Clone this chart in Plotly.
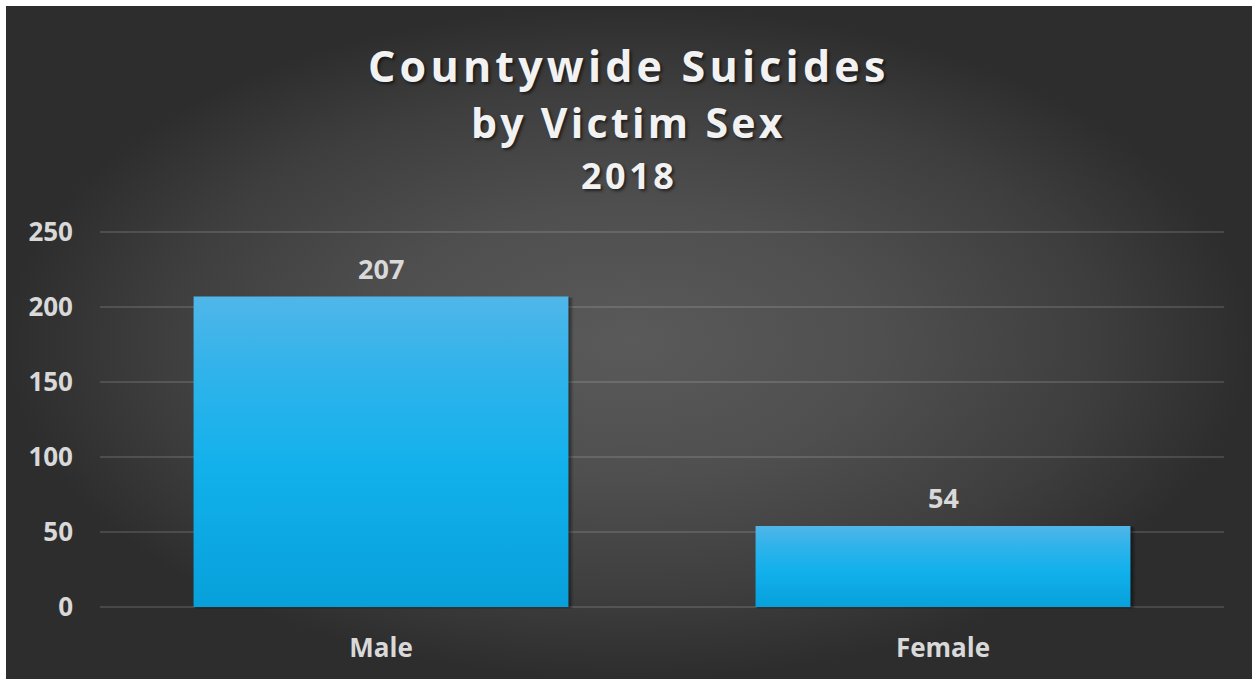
import plotly.graph_objects as go

# Data
categories = ["Male", "Female"]
suicides = [207, 54]
y_ticks = [0, 50, 100, 150, 200, 250]

title_lines = ["Countywide Suicides", "by Victim Sex", "2018"]

# Canvas geometry (pixels)
W, H = 1252, 679
PLOT_L, PLOT_R = 100, 1224
PLOT_T, PLOT_B = 232, 607
FRAME_L, FRAME_T = 6, 6

BAR_WIDTH = 0.667
LABEL_COLOR = "#d9d9d9"
FONT = "Open Sans"

# Small padding on the value axis so the 0 and 250 gridlines are drawn
Y_PAD = 0.8
px_per_y = (PLOT_B - PLOT_T) / y_ticks[-1]
dom_bottom_px = PLOT_B + Y_PAD * px_per_y
dom_top_px = PLOT_T - Y_PAD * px_per_y

fig = go.Figure()

# Chart background: radial gradient panel inside a thin white frame
fig.add_trace(go.Scatter(
    x=[0, 1, 1, 0, 0], y=[0, 0, 1, 1, 0],
    xaxis="x", yaxis="y",
    mode="lines", line=dict(width=0), fill="toself",
    fillgradient=dict(
        type="radial",
        colorscale=[[0.0, "#5a5a5a"], [0.4, "#4f4f4f"], [0.75, "#3e3e3e"], [1.0, "#2d2d2d"]],
    ),
    hoverinfo="skip", showlegend=False,
))

# Bar geometry derived from the category positions and values
x_pos = list(range(len(categories)))
px_per_x = (PLOT_R - PLOT_L) / len(categories)

# Soft drop shadow behind each bar
for c, v in zip(x_pos, suicides):
    for k, alpha in [(5, 0.07), (4, 0.09), (3, 0.12), (2, 0.15)]:
        dx = k / px_per_x
        dy = k / px_per_y
        x0, x1 = c - BAR_WIDTH / 2 + dx * 0.3, c + BAR_WIDTH / 2 + dx
        y0, y1 = -dy, v - dy * 0.3
        fig.add_trace(go.Scatter(
            x=[x0, x1, x1, x0, x0], y=[y0, y0, y1, y1, y0],
            xaxis="x2", yaxis="y2",
            mode="lines", line=dict(width=0), fill="toself",
            fillcolor=f"rgba(0,0,0,{alpha})",
            hoverinfo="skip", showlegend=False,
        ))

# Bars with a vertical gradient fill
for name, c, v in zip(categories, x_pos, suicides):
    x0, x1 = c - BAR_WIDTH / 2, c + BAR_WIDTH / 2
    fig.add_trace(go.Scatter(
        x=[x0, x1, x1, x0, x0], y=[0, 0, v, v, 0],
        xaxis="x2", yaxis="y2",
        mode="lines", line=dict(width=0), fill="toself",
        fillgradient=dict(
            type="vertical", start=0, stop=v,
            colorscale=[[0.0, "#07a0db"], [0.45, "#12b1ec"], [0.75, "#2fb3ea"], [1.0, "#50b6e9"]],
        ),
        name=name, hovertemplate=f"{name}: {v}<extra></extra>", showlegend=False,
    ))

# Value labels above the bars
annotations = []
for c, v in zip(x_pos, suicides):
    annotations.append(dict(
        x=c, y=v, xref="x2", yref="y2", text=str(v), showarrow=False,
        yanchor="bottom", yshift=8,
        font=dict(family=FONT, size=27, color=LABEL_COLOR, weight=700),
    ))

# Three-line title: (text, font size, letter spacing px, vertical centre px)
title_specs = [
    (title_lines[0], 43, 4.2, 65),
    (title_lines[1], 41, 3.3, 122),
    (title_lines[2], 36, 3.5, 176),
]
for text, size, spacing, y_px in title_specs:
    annotations.append(dict(
        x=(FRAME_L + W) / 2 / W, y=1 - y_px / H, xref="paper", yref="paper",
        xanchor="center", yanchor="middle", showarrow=False,
        text=f"<span style='letter-spacing:{spacing}px'>{text}</span>",
        font=dict(family=FONT, size=size, color="#f2f2f2", weight=700,
                  shadow="2px 2px 3px rgba(0,0,0,0.55)"),
    ))

grid_color = "rgba(255,255,255,0.13)"

fig.update_layout(
    template="none",
    width=W, height=H,
    margin=dict(l=0, r=0, t=0, b=0, pad=0, autoexpand=False),
    paper_bgcolor="white",
    plot_bgcolor="rgba(0,0,0,0)",
    showlegend=False,
    annotations=annotations,
    xaxis=dict(domain=[FRAME_L / W, 1], range=[0, 1], visible=False, fixedrange=True,
               automargin=False),
    yaxis=dict(domain=[0, 1 - FRAME_T / H], range=[0, 1], visible=False, fixedrange=True,
               automargin=False),
    xaxis2=dict(
        domain=[PLOT_L / W, PLOT_R / W], anchor="y2",
        range=[-0.5, len(categories) - 0.5],
        tickmode="array", tickvals=x_pos, ticktext=categories,
        showgrid=False, zeroline=False, showline=False, ticks="",
        tickfont=dict(family=FONT, size=26, color=LABEL_COLOR, weight=700),
        ticklabelstandoff=22, automargin=False,
    ),
    yaxis2=dict(
        domain=[1 - dom_bottom_px / H, 1 - dom_top_px / H], anchor="x2",
        range=[-Y_PAD, y_ticks[-1] + Y_PAD],
        tickmode="array", tickvals=y_ticks,
        showgrid=True, gridcolor=grid_color, gridwidth=2,
        zeroline=False, showline=False, ticks="",
        tickfont=dict(family=FONT, size=26, color=LABEL_COLOR, weight=700),
        ticklabelstandoff=26, automargin=False,
    ),
)

fig.write_html("out.html")
